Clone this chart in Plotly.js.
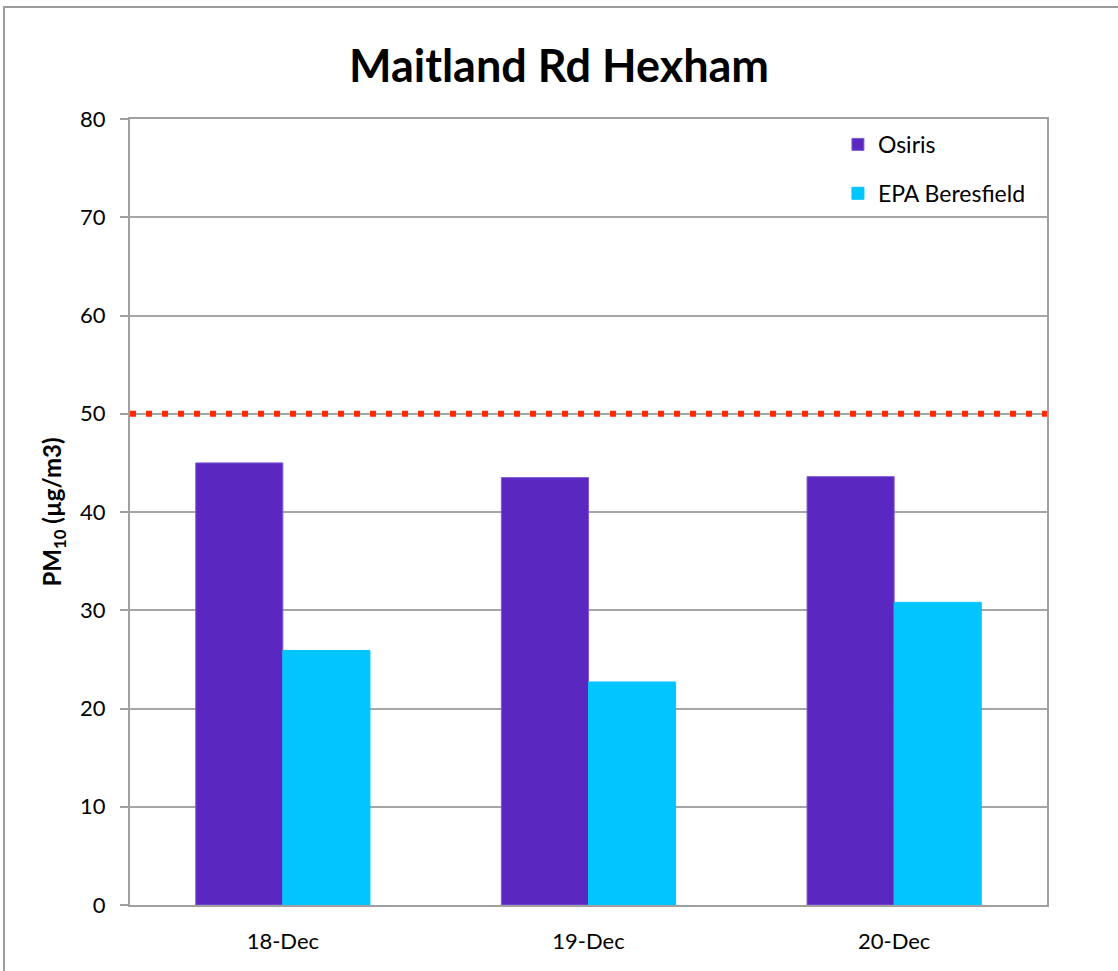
<!DOCTYPE html>
<html>
<head>
<meta charset="utf-8">
<script src="https://cdn.plot.ly/plotly-3.0.1.min.js"></script>
<style>
  html, body { margin: 0; padding: 0; background: #ffffff; }
  #wrap { position: relative; width: 1118px; height: 971px; overflow: hidden; }
  #frame { position: absolute; left: 3px; top: 6px; width: 1200px; height: 1100px;
           border-left: 2px solid #9c9c9c; border-top: 2px solid #9c9c9c; pointer-events: none; z-index: 5; }
  #chart { position: absolute; left: 0; top: 0; width: 1118px; height: 971px; }
</style>
</head>
<body>
<div id="wrap">
  <div id="chart"></div>
  <div id="frame"></div>
</div>
<script>
const categories = ["18-Dec", "19-Dec", "20-Dec"];
const osiris = [45.0, 43.5, 43.6];
const epaBeresfield = [25.9, 22.7, 30.8];
const limitValue = 50;
const yTicks = [0, 10, 20, 30, 40, 50, 60, 70, 80];

const FONT = "Lato, 'Open Sans', sans-serif";

const traces = [
  {
    type: "bar", name: "Osiris", x: categories, y: osiris,
    marker: { color: "#5a27c1", line: { color: "#7e5ad6", width: 1 } },
    legendgroup: "a", hoverinfo: "none"
  },
  {
    type: "bar", name: "EPA Beresfield", x: categories, y: epaBeresfield,
    marker: { color: "#00c5ff", line: { color: "#00c5ff", width: 1 } },
    legendgroup: "b", hoverinfo: "none"
  }
];

const layout = {
  width: 1118, height: 971,
  paper_bgcolor: "#ffffff", plot_bgcolor: "#ffffff",
  margin: { l: 130, r: 71, t: 119, b: 66 },
  barmode: "group", bargap: 0.43, bargroupgap: 0,
  font: { family: FONT, color: "#000000", size: 22 },
  title: {
    text: "<b>Maitland Rd Hexham</b>",
    font: { family: FONT, size: 45, color: "#000000" },
    x: 0.5, xanchor: "center", y: 0.932, yanchor: "middle"
  },
  showlegend: true,
  legend: {
    x: 0.772, y: 0.995, xanchor: "left", yanchor: "top",
    bgcolor: "rgba(0,0,0,0)", font: { family: FONT, size: 23, color: "#000000" },
    traceorder: "grouped", tracegroupgap: 16, itemwidth: 30
  },
  xaxis: {
    type: "category", showgrid: false, zeroline: false,
    showline: true, linecolor: "#a0a0a0", linewidth: 2, mirror: true,
    ticks: "", tickfont: { family: FONT, size: 22, color: "#000000" },
    ticklabelstandoff: 16
  },
  yaxis: {
    range: [0, 80], tickvals: yTicks, ticktext: yTicks.map(String),
    showgrid: true, gridcolor: "#a6a6a6", gridwidth: 2, zeroline: false,
    showline: true, linecolor: "#a0a0a0", linewidth: 2, mirror: true,
    ticks: "outside", ticklen: 8, tickwidth: 2, tickcolor: "#a0a0a0",
    tickfont: { family: FONT, size: 22, color: "#000000" },
    ticklabelstandoff: 10,
    title: {
      text: "<b>PM<sub>10</sub> (µg/m3)</b>",
      font: { family: FONT, size: 24, color: "#000000" },
      standoff: 12
    }
  },
  shapes: [
    {
      type: "line", xref: "paper", x0: 0, x1: 1, yref: "y", y0: limitValue, y1: limitValue,
      line: { color: "#ff2a00", width: 6, dash: "6px,10px" }, layer: "above"
    }
  ]
};

Plotly.newPlot("chart", traces, layout, { staticPlot: true, displayModeBar: false });
</script>
</body>
</html>
